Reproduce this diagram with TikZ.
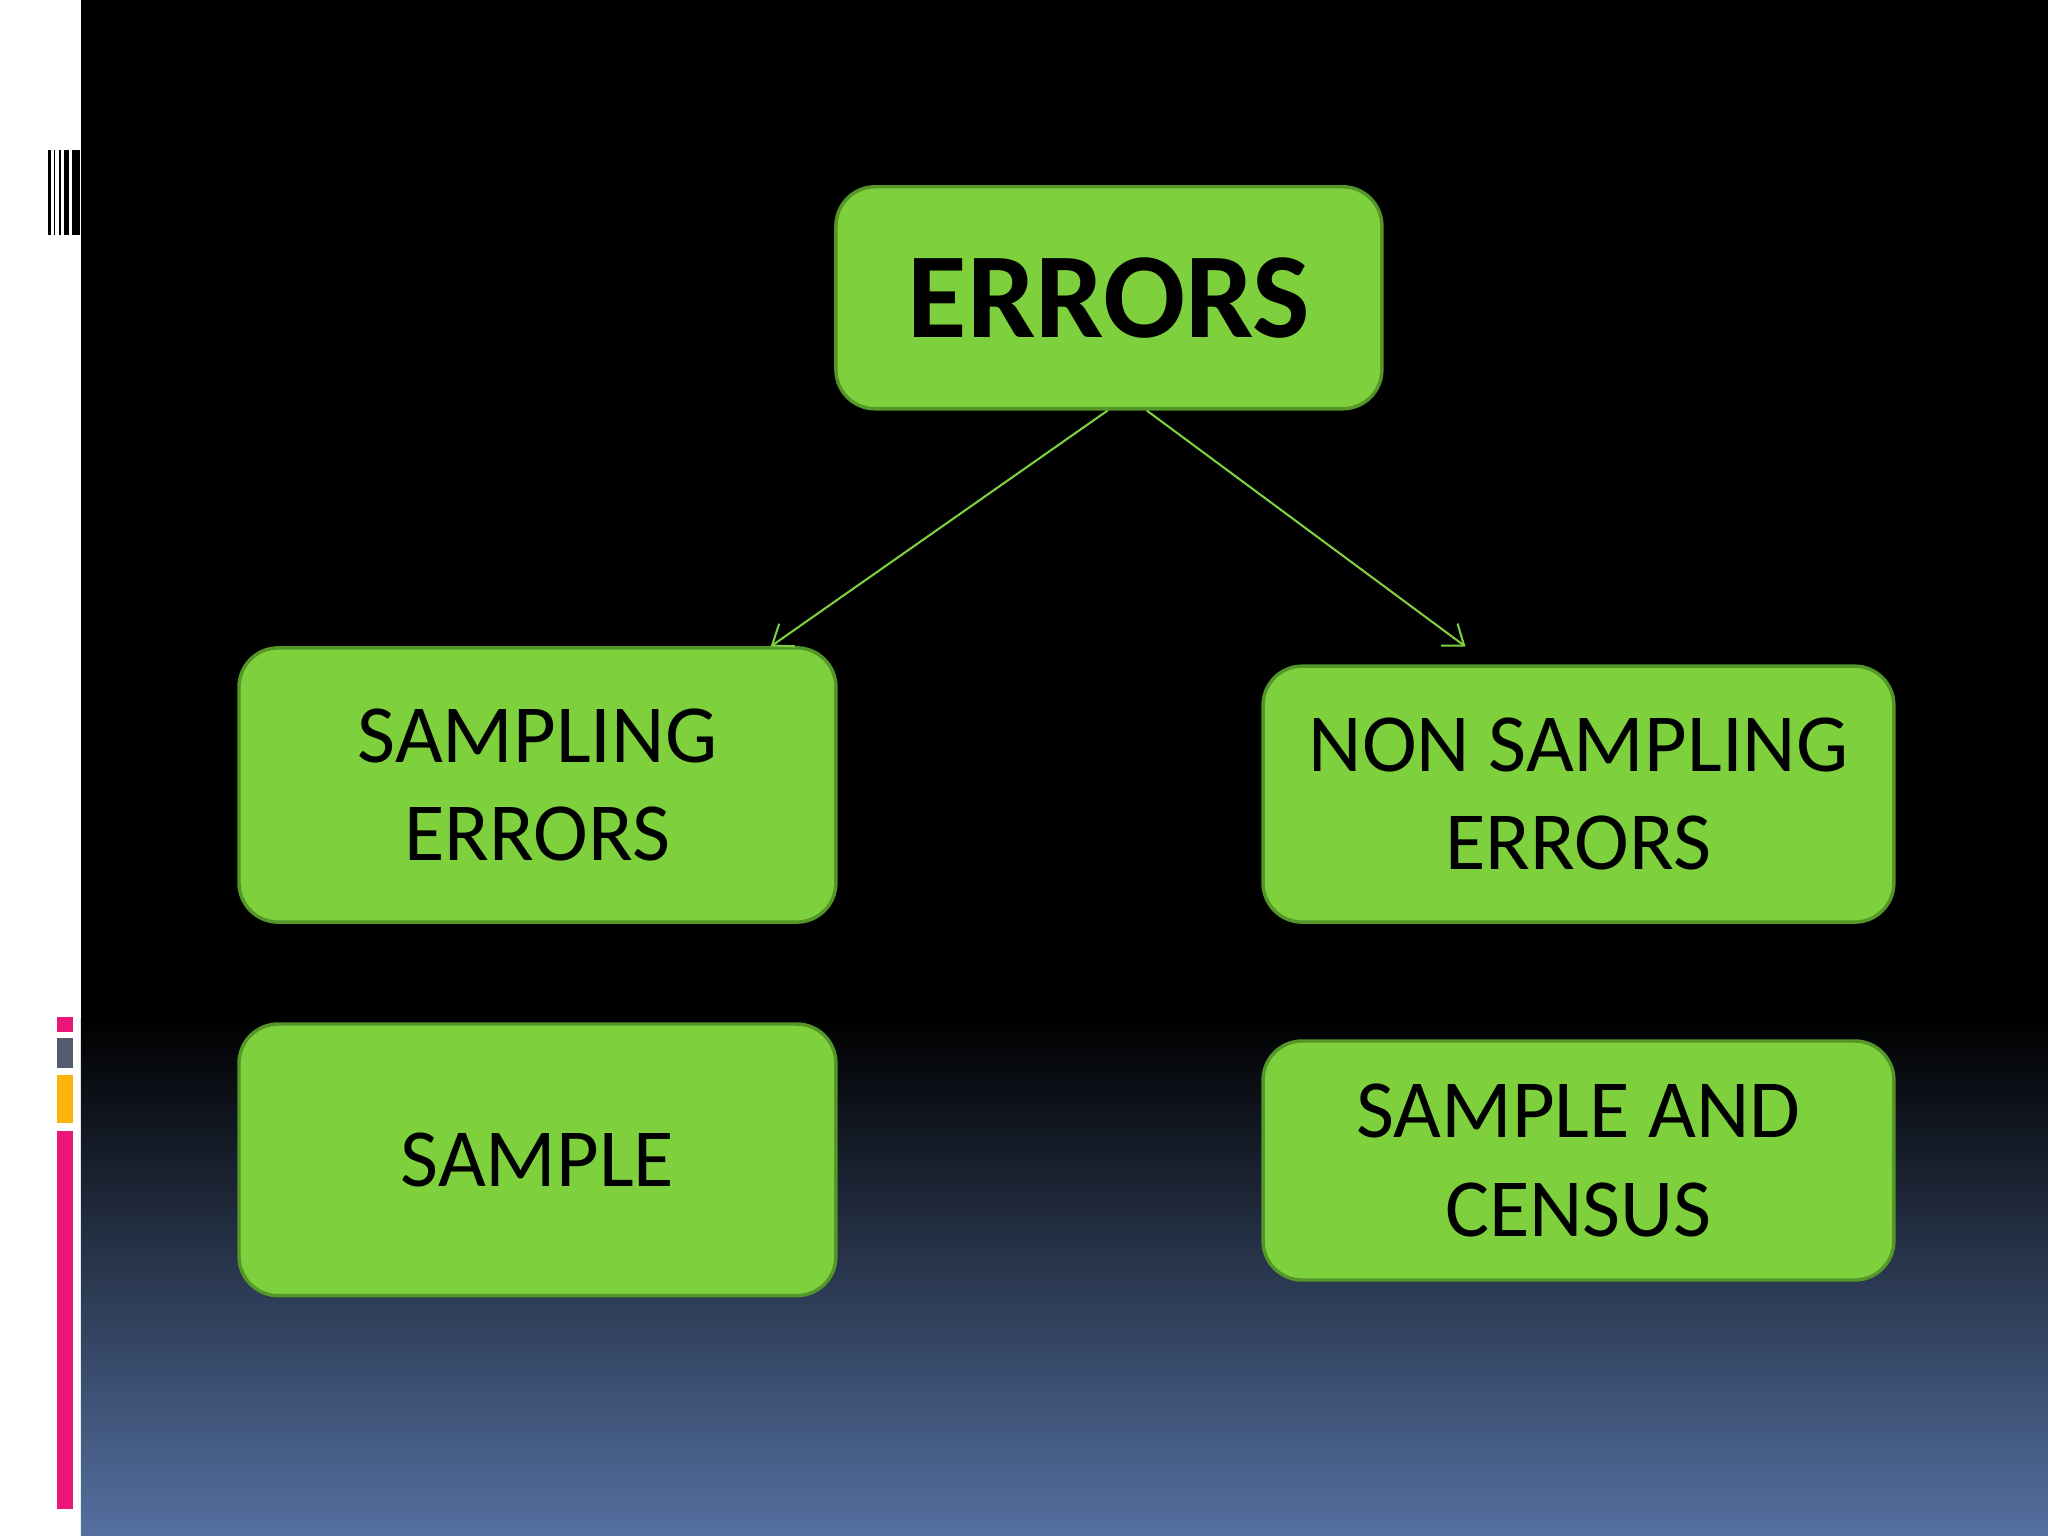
\documentclass[tikz,border=0pt]{standalone}
\usepackage{fontspec}
\setmainfont{Carlito}
\usetikzlibrary{arrows.meta}
\definecolor{boxg}{RGB}{126,208,61}
\definecolor{boxb}{RGB}{84,150,40}
\definecolor{bot}{RGB}{84,112,160}
\definecolor{pinkb}{RGB}{234,22,123}
\definecolor{grayb}{RGB}{84,92,112}
\definecolor{yelb}{RGB}{252,180,10}
\tikzset{gbox/.style={draw=boxb,line width=1.5pt,fill=boxg,rounded corners=0.6cm,align=center,font=\fontsize{36}{43}\selectfont,text=black},
conn/.style={draw=boxg,line width=0.9pt,-{Straight Barb[length=8pt,width=12pt]}}}
\begin{document}
\begin{tikzpicture}[x=0.02cm,y=-0.02cm]
\useasboundingbox (0,0) rectangle (1568,1176);
\fill[white] (0,0) rectangle (62,1176);
\fill[black] (62,0) rectangle (1568,780);
\shade[top color=black,bottom color=bot] (62,780) rectangle (1568,1176);
\foreach \a/\b in {37/39,41/42,45/47,49/53,55/61} \fill[black] (\a,115) rectangle (\b,180);
\fill[pinkb] (44,779) rectangle (56,790);
\fill[grayb] (44,795) rectangle (56,818);
\fill[yelb] (44,823) rectangle (56,860);
\fill[pinkb] (44,866) rectangle (56,1155);
\node[gbox,minimum width=418*0.02cm,minimum height=170*0.02cm,font=\fontsize{53}{64}\selectfont\bfseries] (e) at (849,228) {ERRORS};
\node[gbox,minimum width=457*0.02cm,minimum height=210*0.02cm] (s) at (411.5,601) {SAMPLING\\ERRORS};
\node[gbox,minimum width=483*0.02cm,minimum height=196*0.02cm] (n) at (1208.5,608) {NON SAMPLING\\ERRORS};
\node[gbox,minimum width=457*0.02cm,minimum height=208*0.02cm] (p) at (411.5,888) {SAMPLE};
\node[gbox,minimum width=483*0.02cm,minimum height=183*0.02cm] (c) at (1208.5,888.5) {SAMPLE AND\\CENSUS};
\coordinate (sa) at (590,495);
\coordinate (na) at (1122,495);
\draw[conn] ([xshift=-0.02cm]e.south) -- (sa);
\draw[conn] ([xshift=0.58cm]e.south) -- (na);
\end{tikzpicture}
\end{document}
